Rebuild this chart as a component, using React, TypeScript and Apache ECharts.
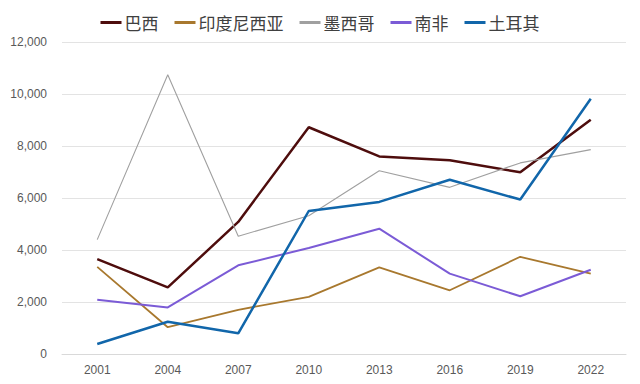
import React, { useEffect, useRef } from "react";
import * as echarts from "echarts";

const years = ["2001", "2004", "2007", "2010", "2013", "2016", "2019", "2022"];
const brazil = [3650, 2560, 5080, 8720, 7600, 7450, 6990, 9010];
const indonesia = [3350, 1030, 1700, 2200, 3330, 2450, 3740, 3090];
const mexico = [4400, 10740, 4530, 5320, 7050, 6410, 7350, 7860];
const southAfrica = [2090, 1790, 3410, 4080, 4820, 3090, 2220, 3240];
const turkey = [385, 1240, 795, 5500, 5850, 6700, 5940, 9820];

const seriesNames = ["巴西", "印度尼西亚", "墨西哥", "南非", "土耳其"];
const seriesData = [brazil, indonesia, mexico, southAfrica, turkey];
const colors = ["#4e0d0d", "#a8782e", "#a0a0a0", "#7b5bd6", "#1166aa"];
const widths = [2.5, 1.8, 1.1, 2, 2.5];

export default function App() {
  const ref = useRef<HTMLDivElement>(null);
  useEffect(() => {
    if (!ref.current) return;
    const chart = echarts.init(ref.current, null, { renderer: "svg" });
    chart.setOption({
      animation: false,
      backgroundColor: "#ffffff",
      legend: {
        top: 9,
        left: "center",
        itemWidth: 21,
        itemHeight: 3,
        itemGap: 16,
        icon: "rect",
        textStyle: {
          fontSize: 17,
          fontWeight: "normal",
          color: "#404040",
          fontFamily: "Noto Sans CJK SC",
          padding: [0, 0, 0, -2],
        },
        data: seriesNames,
      },
      grid: { left: 62, right: 14, top: 42, bottom: 30 },
      xAxis: {
        type: "category",
        data: years,
        boundaryGap: true,
        axisLine: { lineStyle: { color: "#d9d9d9", width: 1 } },
        axisTick: { show: false },
        axisLabel: {
          color: "#595959",
          fontSize: 12,
          margin: 10,
          fontFamily: "Liberation Sans",
        },
      },
      yAxis: {
        type: "value",
        min: 0,
        max: 12000,
        interval: 2000,
        axisLine: { show: false },
        axisTick: { show: false },
        splitLine: { lineStyle: { color: "#e3e3e3", width: 1 } },
        axisLabel: {
          color: "#595959",
          fontSize: 12,
          margin: 15,
          fontFamily: "Liberation Sans",
          formatter: (v: number) => v.toLocaleString("en-US"),
        },
      },
      series: seriesNames.map((name, i) => ({
        name,
        type: "line",
        data: seriesData[i],
        symbol: "none",
        color: colors[i],
        lineStyle: { color: colors[i], width: widths[i] },
      })),
    });
    return () => chart.dispose();
  }, []);
  return (
    <div
      ref={ref}
      style={{ position: "absolute", left: 0, top: 0, width: 640, height: 384 }}
    />
  );
}
